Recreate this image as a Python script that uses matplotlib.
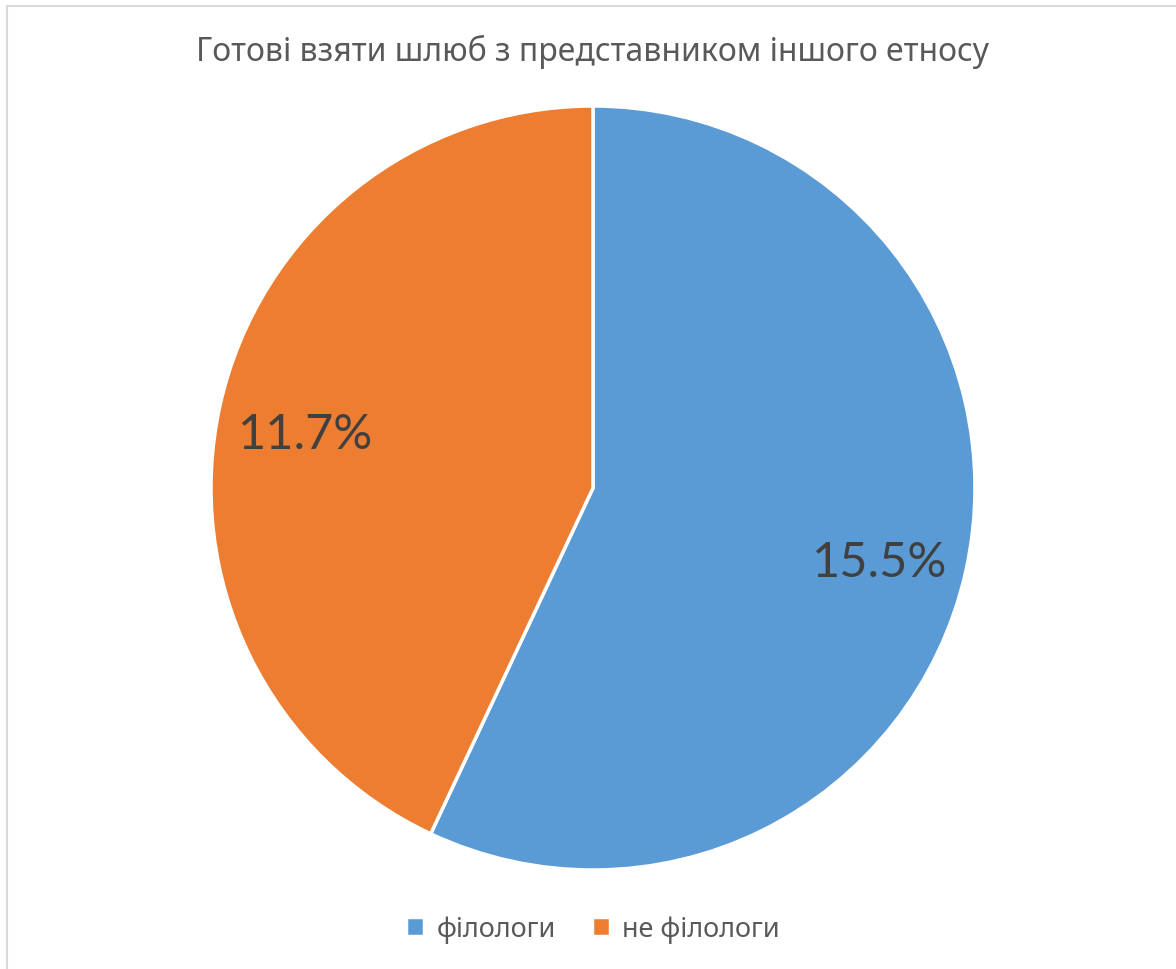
import matplotlib
matplotlib.use('Agg')
import matplotlib.pyplot as plt
from matplotlib.patches import Rectangle

title = 'Готові взяти шлюб з представником іншого етносу'
categories = ['філологи', 'не філологи']
values = [15.5, 11.7]
colors = ['#5b9bd5', '#ed7d31']

W, H = 1176, 970
fig = plt.figure(figsize=(W / 100, H / 100), dpi=100)

# chart frame (cut off at right and bottom like the screenshot)
fig.patches.append(Rectangle((7 / W, -0.01), 1.2, 1 - 7 / H + 0.01,
                             transform=fig.transFigure, fill=False,
                             edgecolor='#d9d9d9', linewidth=1.5))

cx, cy, r = 593, 489, 382
ax = fig.add_axes([(cx - r) / W, 1 - (cy + r) / H, 2 * r / W, 2 * r / H])
wedges, texts, autotexts = ax.pie(
    values, colors=colors, startangle=90, counterclock=False,
    autopct=lambda p: '%.1f%%' % (p * sum(values) / 100), pctdistance=0.77,
    wedgeprops={'edgecolor': 'white', 'linewidth': 2.5},
    textprops={'fontsize': 35, 'color': '#404040', 'family': 'Lato'})
for t in autotexts:
    x, y = t.get_position()
    t.set_position((x, y - 0.025))
ax.set_xlim(-1, 1)
ax.set_ylim(-1, 1)
ax.set_aspect('auto')
ax.axis('off')

fig.text(cx / W, 1 - 52 / H, title, ha='center', va='center',
         fontsize=23, color='#595959', family='Noto Sans')

leg = fig.legend(wedges, categories, loc='center', bbox_to_anchor=(cx / W, 1 - 930 / H),
                 ncol=2, frameon=False, handlelength=0.65, handleheight=0.65,
                 handletextpad=0.45, columnspacing=1.35,
                 prop={'family': 'Noto Sans', 'size': 19.5})
for t in leg.get_texts():
    t.set_color('#595959')

fig.savefig('out.png', dpi=100)
